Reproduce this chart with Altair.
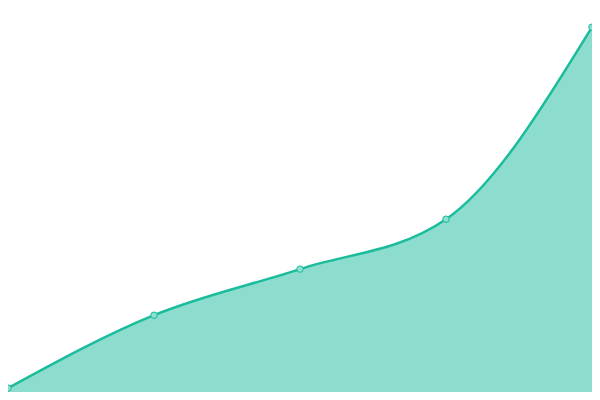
import altair as alt
import pandas as pd

steps = [0, 1, 2, 3, 4]
values = [1, 20, 32, 45, 95]

df = pd.DataFrame({"step": steps, "value": values})

xscale = alt.Scale(domain=[0, 4], nice=False, zero=False)
yscale = alt.Scale(domain=[0, 100], nice=False)

base = alt.Chart(df).encode(
    x=alt.X("step:Q", scale=xscale, axis=None),
    y=alt.Y("value:Q", scale=yscale, axis=None),
)

area = base.mark_area(
    interpolate="monotone", color="#1abc9c", opacity=0.5, clip=True
)
line = base.mark_line(
    interpolate="monotone", color="#1abc9c", strokeWidth=2.5, clip=True
)
pts = base.mark_point(
    filled=True, size=42, fill="#8ce0d0", stroke="#1abc9c", strokeWidth=1,
    opacity=1, clip=True
)

chart = (
    alt.layer(area, line, pts)
    .properties(width=584, height=384, padding=0, autosize="none", background="white")
    .configure_view(stroke=None)
)

chart.save("out.html", embed_options={"renderer": "svg", "actions": False})
